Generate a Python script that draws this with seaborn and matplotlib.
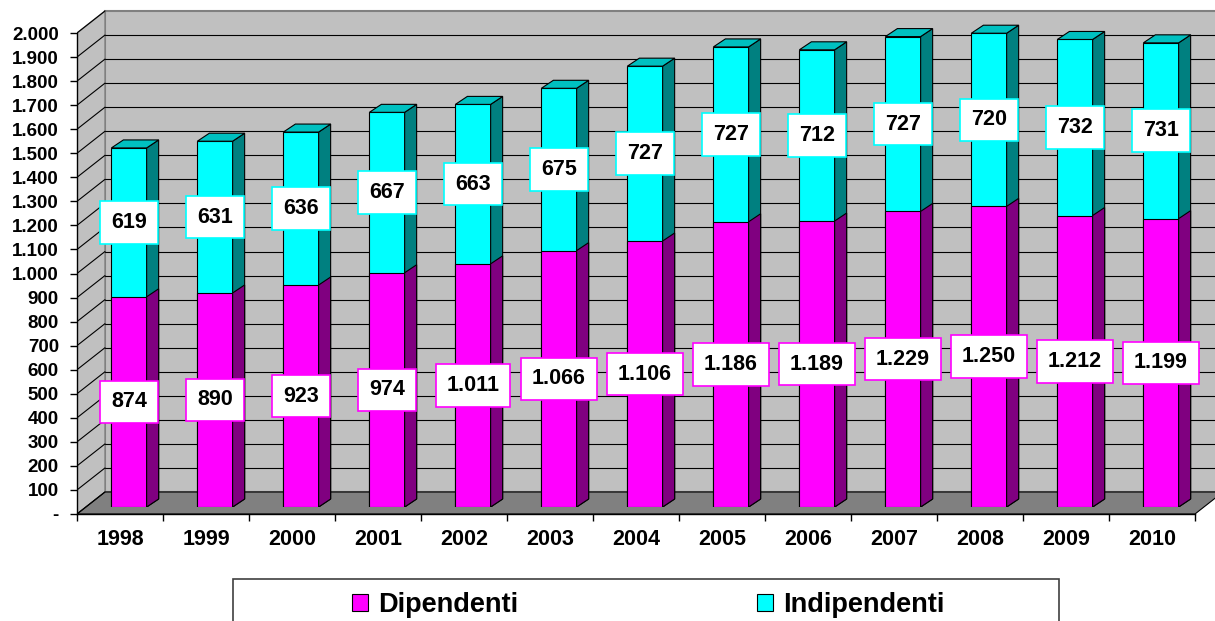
import numpy as np
import pandas as pd
import matplotlib
matplotlib.use("Agg")
import matplotlib.pyplot as plt
from matplotlib.patches import Polygon, Rectangle, Patch
import seaborn as sns

# Occupati per posizione professionale (migliaia)
years = [str(y) for y in range(1998, 2011)]
dipendenti = [874, 890, 923, 974, 1011, 1066, 1106, 1186, 1189, 1229, 1250, 1212, 1199]
indipendenti = [619, 631, 636, 667, 663, 675, 727, 727, 712, 727, 720, 732, 731]
series_names = ["Dipendenti", "Indipendenti"]
y_ticks = list(range(0, 2001, 100))

MAGENTA, MAGENTA_SIDE = "#FF00FF", "#800080"
CYAN, CYAN_SIDE, CYAN_TOP = "#00FFFF", "#008080", "#00C0C0"
WALL, FLOOR = "#C0C0C0", "#808080"

sns.set_style("ticks")
plt.rcParams["font.family"] = ["Liberation Sans", "DejaVu Sans"]
plt.rcParams["font.weight"] = "bold"
plt.rcParams["text.color"] = "black"
plt.rcParams["xtick.color"] = "black"
plt.rcParams["ytick.color"] = "black"
plt.rcParams["xtick.labelcolor"] = "black"
plt.rcParams["ytick.labelcolor"] = "black"


def it_num(v):
    return "-" if v == 0 else f"{v:,}".replace(",", ".")


df = pd.DataFrame({"Anno": years, "Dipendenti": dipendenti, "Indipendenti": indipendenti})
df["Totale"] = df["Dipendenti"] + df["Indipendenti"]

W, H = 1215, 621
fig = plt.figure(figsize=(W / 100, H / 100), dpi=100)

# pixel geometry of the pseudo-3D box
LEFT, BASE, TOP, RIGHT = 77, 514, 8, 1215
CAT_PX = 86.0
VAL_PX = 481.0 / 2000.0
XLIM = (-0.5, -0.5 + (RIGHT - LEFT) / CAT_PX)
YLIM = (0, (BASE - TOP) / VAL_PX)
WX, WY = 28 / CAT_PX, 22 / VAL_PX      # wall depth
BX, BY = 12 / CAT_PX, 8 / VAL_PX       # bar depth
SHIFT_X, SHIFT_Y = 9, 7                # bars sit inside the box

rect = [LEFT / W, (H - BASE) / H, (RIGHT - LEFT) / W, (BASE - TOP) / H]
ax = fig.add_axes(rect)
ax.set_xlim(*XLIM)
ax.set_ylim(*YLIM)
ax.set_facecolor("none")

n = len(years)
xl, xr = -0.5, n - 0.5
far = xr + 2

# walls and floor
ax.add_patch(Rectangle((xl + WX, WY), far - xl, 2000, fc=WALL, ec=FLOOR, lw=1.5, zorder=0))
ax.add_patch(Polygon([(xl, 0), (xl, 2000), (xl + WX, 2000 + WY), (xl + WX, WY)],
                     closed=True, fc=WALL, ec=FLOOR, lw=1.0, zorder=0))
ax.add_patch(Polygon([(xl, 0), (xr, 0), (xr + WX, WY), (xl + WX, WY)],
                     closed=True, fc=FLOOR, ec="black", lw=0.8, zorder=0.5))
ax.add_patch(Rectangle((xr, 0), far, WY, fc="white", ec="none", zorder=0.4))
for v in y_ticks[1:-1]:
    ax.plot([xl + WX, far], [v + WY, v + WY], color="black", lw=0.8, zorder=0.6)
for v in y_ticks:
    ax.plot([xl, xl + WX], [v, v + WY], color="black", lw=0.8, zorder=0.6)

for side in ["top", "right"]:
    ax.spines[side].set_visible(False)
ax.spines["left"].set_bounds(0, 2000)
ax.spines["bottom"].set_bounds(xl, xr)
for side in ["left", "bottom"]:
    ax.spines[side].set_color("black")
    ax.spines[side].set_linewidth(1.0)
    ax.spines[side].set_zorder(3)

ax.set_yticks(y_ticks)
ax.set_yticklabels([it_num(v) for v in y_ticks])
ax.set_xticks(range(n))
ax.set_xticklabels(years)
ax.set_xticks(np.arange(n + 1) - 0.5, minor=True)
ax.tick_params(axis="y", length=5, width=1, color="black", labelcolor="black",
               pad=8, labelsize=13.5, left=True)
ax.tick_params(axis="x", which="major", length=0, pad=11, labelsize=15.5,
               labelcolor="black", bottom=True)
ax.tick_params(axis="x", which="minor", length=5, width=1, color="black", bottom=True)
for lab in ax.get_xticklabels() + ax.get_yticklabels():
    lab.set_fontweight("bold")

# bars, drawn in an axes shifted into the depth of the box
brect = [(LEFT + SHIFT_X) / W, (H - BASE + SHIFT_Y) / H, (RIGHT - LEFT) / W, (BASE - TOP) / H]
bx = fig.add_axes(brect)
bx.set_facecolor("none")

sns.barplot(data=df, x="Anno", y="Totale", color=CYAN, saturation=1, width=0.41,
            edgecolor="black", linewidth=0.8, errorbar=None, ax=bx)
bars_ind = list(bx.patches)
sns.barplot(data=df, x="Anno", y="Dipendenti", color=MAGENTA, saturation=1, width=0.41,
            edgecolor="black", linewidth=0.8, errorbar=None, ax=bx)
bars_dip = list(bx.patches)[len(bars_ind):]
bx.set_xlim(*XLIM)
bx.set_ylim(*YLIM)
bx.axis("off")


def side_face(p, color):
    x0 = p.get_x()
    x1 = x0 + p.get_width()
    y0 = p.get_y()
    y1 = y0 + p.get_height()
    bx.add_patch(Polygon([(x1, y0), (x1 + BX, y0 + BY), (x1 + BX, y1 + BY), (x1, y1)],
                         closed=True, fc=color, ec="black", lw=0.8, zorder=1))
    return x0, x1, y1


for p in bars_ind:
    x0, x1, y1 = side_face(p, CYAN_SIDE)
    bx.add_patch(Polygon([(x0, y1), (x0 + BX, y1 + BY), (x1 + BX, y1 + BY), (x1, y1)],
                         closed=True, fc=CYAN_TOP, ec="black", lw=0.8, zorder=1))
for p in bars_dip:
    side_face(p, MAGENTA_SIDE)

# value labels
for pd_, pi_, d, i in zip(bars_dip, bars_ind, dipendenti, indipendenti):
    cx = pd_.get_x() + pd_.get_width() / 2
    bx.text(cx, d / 2, it_num(d), ha="center", va="center", fontsize=15.5,
            fontweight="bold", color="black", zorder=5,
            bbox=dict(boxstyle="square,pad=0.5", fc="white", ec=MAGENTA, lw=1.2))
    bx.text(cx, d + i / 2, it_num(i), ha="center", va="center", fontsize=15.5,
            fontweight="bold", color="black", zorder=5,
            bbox=dict(boxstyle="square,pad=0.5", fc="white", ec=CYAN, lw=1.2))

# legend
fig.patches.append(Rectangle((233 / W, (H - 645) / H), (1059 - 233) / W, (645 - 579) / H,
                             transform=fig.transFigure, fc="white", ec="#404040", lw=1.2))
handles = [Patch(fc=MAGENTA, ec="black", lw=0.8), Patch(fc=CYAN, ec="black", lw=0.8)]
leg = fig.legend(handles, series_names, ncol=2, loc="center left",
                 bbox_to_anchor=(352 / W, 1 - 605 / H), frameon=False, borderpad=0,
                 borderaxespad=0, handlelength=0.6, handleheight=0.6, handletextpad=0.37,
                 columnspacing=8.8, prop={"size": 19.5, "weight": "bold"})
for t in leg.get_texts():
    t.set_color("black")

fig.savefig("out.png", dpi=100, facecolor="white")
